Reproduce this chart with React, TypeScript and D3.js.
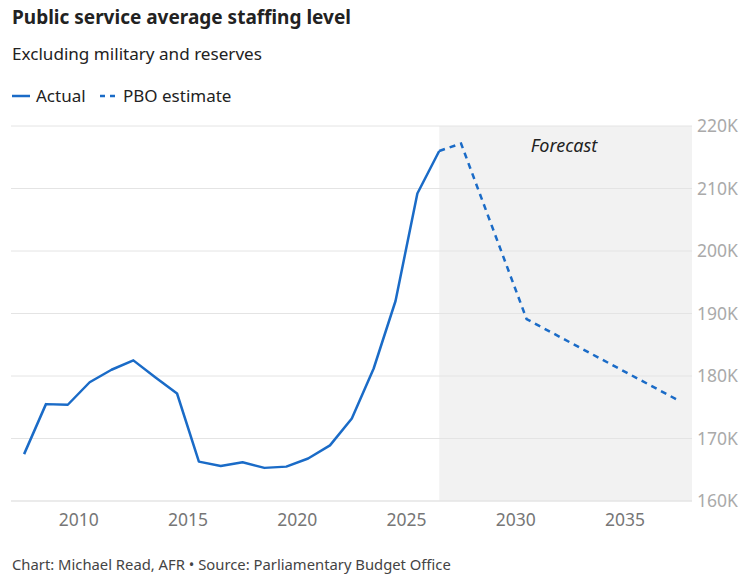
import React from "react";
import * as d3 from "d3";

// fiscal years are plotted at mid-year (e.g. 2007-08 -> 2007.5)
const actualYears = [2007.5, 2008.5, 2009.5, 2010.5, 2011.5, 2012.5, 2013.5, 2014.5, 2015.5, 2016.5, 2017.5, 2018.5, 2019.5, 2020.5, 2021.5, 2022.5, 2023.5, 2024.5, 2025.5, 2026.5];
const actualValues = [167.5, 175.5, 175.4, 179, 181, 182.5, 179.8, 177.2, 166.3, 165.6, 166.2, 165.3, 165.5, 166.8, 168.9, 173.2, 181.2, 192, 209.2, 216];

const pboYears = [2026.5, 2027.5, 2030.5, 2037.5];
const pboValues = [216, 217.2, 189.1, 176];

const xTicks = [2010, 2015, 2020, 2025, 2030, 2035];
const yTicks = [160, 170, 180, 190, 200, 210, 220];

const forecastStart = 2026.5;

const W = 752;
const H = 576;
const FONT = "'Noto Sans', sans-serif";
const BLUE = "#1a6bc7";

const App: React.FC = () => {
  const x = d3.scaleLinear().domain([2006.9, 2038.07]).range([11, 692]);
  const y = d3.scaleLinear().domain([160, 220]).range([501, 126]);

  const line = d3
    .line<[number, number]>()
    .x((d) => x(d[0]))
    .y((d) => y(d[1]));

  const actual = actualYears.map((yr, i) => [yr, actualValues[i]] as [number, number]);
  const pbo = pboYears.map((yr, i) => [yr, pboValues[i]] as [number, number]);

  const [x0, x1] = x.range();

  return (
    <svg
      width={W}
      height={H}
      style={{ position: "absolute", left: 0, top: 0, background: "#fff" }}
      fontFamily={FONT}
    >
      {/* header */}
      <text x={12} y={24} fontSize={19} fontWeight="bold" fill="#222">
        Public service average staffing level
      </text>
      <text x={12} y={60} fontSize={17.1} fill="#222">
        Excluding military and reserves
      </text>

      {/* legend */}
      <line x1={12} x2={30} y1={96} y2={96} stroke={BLUE} strokeWidth={2.5} />
      <text x={36} y={102} fontSize={17} fill="#222">Actual</text>
      <line x1={100} x2={118} y1={96} y2={96} stroke={BLUE} strokeWidth={2.5} strokeDasharray="5,5" />
      <text x={123} y={102} fontSize={17} fill="#222">PBO estimate</text>

      {/* forecast band */}
      <rect
        x={x(forecastStart)}
        y={y(220)}
        width={x1 - x(forecastStart)}
        height={y(160) - y(220)}
        fill="#f2f2f2"
      />
      <text
        x={564}
        y={152}
        textAnchor="middle"
        fontSize={18}
        fontStyle="italic"
        fill="#222"
      >
        Forecast
      </text>

      {/* grid + y axis */}
      {yTicks.map((t) => (
        <g key={t}>
          <line
            x1={x0}
            x2={x1}
            y1={y(t)}
            y2={y(t)}
            stroke="#e4e4e4"
            strokeWidth={t === 160 ? 1.5 : 1}
          />
          <text x={697} y={y(t)} dy="0.35em" fontSize={17.5} fill="#aaaaaa">
            {`${t}K`}
          </text>
        </g>
      ))}

      {/* x axis labels */}
      {xTicks.map((t) => (
        <text key={t} x={x(t)} y={526} textAnchor="middle" fontSize={17.5} fill="#767676">
          {t}
        </text>
      ))}

      {/* series */}
      <path d={line(pbo) || ""} fill="none" stroke={BLUE} strokeWidth={2.5} strokeDasharray="6,5" />
      <path d={line(actual) || ""} fill="none" stroke={BLUE} strokeWidth={2.5} strokeLinejoin="round" />

      {/* footer */}
      <text x={12} y={570} fontSize={14.8} fill="#444">
        Chart: Michael Read, AFR • Source: Parliamentary Budget Office
      </text>
    </svg>
  );
};

export default App;
